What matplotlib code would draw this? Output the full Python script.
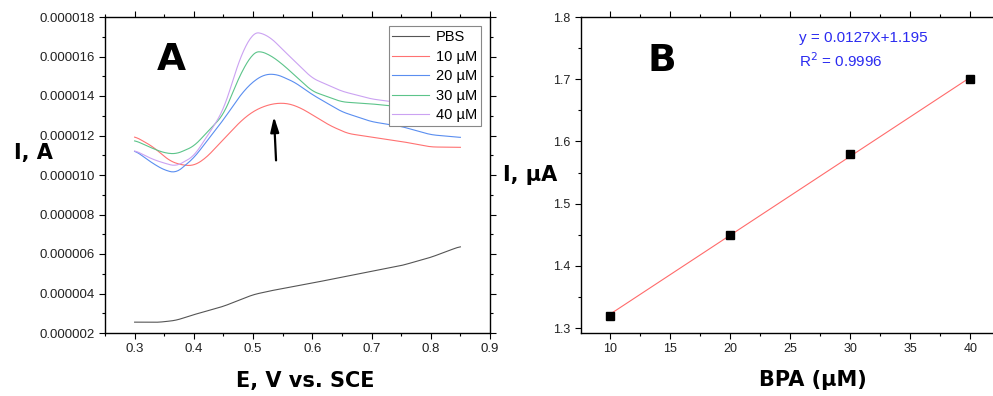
import numpy as np
import matplotlib
matplotlib.use("Agg")
import matplotlib.pyplot as plt
from matplotlib.ticker import MultipleLocator, FuncFormatter

plt.rcParams['font.family'] = ['Liberation Sans', 'DejaVu Sans']

# panel A: DPV curves (E in V, I in units of 1e-6 A)
E_pbs = [0.30, 0.34, 0.37, 0.40, 0.45, 0.50, 0.53, 0.60, 0.70, 0.75, 0.80, 0.85]
I_pbs = [2.55, 2.54, 2.64, 2.93, 3.35, 3.94, 4.14, 4.53, 5.12, 5.41, 5.83, 6.39]

E_10 = [0.30, 0.33, 0.36, 0.38, 0.40, 0.42, 0.45, 0.48, 0.50, 0.52, 0.54, 0.56, 0.58, 0.60, 0.63, 0.66, 0.70, 0.75, 0.80, 0.85]
I_10 = [11.96, 11.45, 10.70, 10.50, 10.47, 10.85, 11.80, 12.75, 13.22, 13.50, 13.64, 13.62, 13.40, 13.05, 12.50, 12.10, 11.92, 11.70, 11.42, 11.40]

E_20 = [0.30, 0.33, 0.35, 0.37, 0.40, 0.45, 0.48, 0.50, 0.52, 0.54, 0.57, 0.60, 0.65, 0.70, 0.75, 0.80, 0.85]
I_20 = [11.25, 10.60, 10.25, 10.10, 10.86, 12.80, 14.10, 14.74, 15.10, 15.10, 14.70, 14.07, 13.20, 12.70, 12.46, 12.04, 11.90]

E_30 = [0.30, 0.33, 0.35, 0.37, 0.40, 0.43, 0.45, 0.48, 0.50, 0.51, 0.53, 0.55, 0.60, 0.65, 0.70, 0.75, 0.80, 0.85]
I_30 = [11.76, 11.35, 11.12, 11.06, 11.45, 12.40, 13.05, 15.20, 16.18, 16.30, 16.05, 15.60, 14.24, 13.70, 13.60, 13.45, 13.30, 13.20]

E_40 = [0.30, 0.33, 0.35, 0.37, 0.40, 0.43, 0.45, 0.48, 0.50, 0.51, 0.53, 0.55, 0.60, 0.65, 0.70, 0.75, 0.80, 0.85]
I_40 = [11.25, 10.80, 10.60, 10.44, 10.95, 12.30, 13.30, 16.10, 17.20, 17.24, 16.95, 16.35, 14.90, 14.24, 13.85, 13.65, 13.45, 13.30]

labels_a = ['PBS', '10 µM', '20 µM', '30 µM', '40 µM']
colors_a = ['#555555', '#ff7272', '#5a8ef0', '#5cc48a', '#cba2f2']

# panel B: calibration
bpa = [10, 20, 30, 40]
peak_i = [1.32, 1.45, 1.58, 1.70]
slope, intercept = 0.0127, 1.195


def smooth(x, y, n=300):
    xs = np.linspace(x[0], x[-1], n)
    ys = np.interp(xs, x, y)
    k = np.ones(11) / 11
    ys_pad = np.concatenate([np.full(5, ys[0]), ys, np.full(5, ys[-1])])
    ys = np.convolve(ys_pad, k, mode='valid')
    return xs, ys


def style_ticks(ax, size):
    ax.tick_params(which='both', direction='out', top=True, right=True,
                   labeltop=False, labelright=False, labelsize=size, width=0.8,
                   labelcolor='#222222')
    ax.tick_params(which='major', length=4)
    ax.tick_params(which='minor', length=2.5)
    for s in ax.spines.values():
        s.set_linewidth(1.0)


fig = plt.figure(figsize=(9.93, 3.96), dpi=100)

axA = fig.add_axes([105 / 993, 1 - 333 / 396, (490 - 105) / 993, (333 - 17) / 396])
series = [(E_pbs, I_pbs), (E_10, I_10), (E_20, I_20), (E_30, I_30), (E_40, I_40)]
for (x, y), lab, c in zip(series, labels_a, colors_a):
    xs, ys = smooth(x, y)
    axA.plot(xs, ys * 1e-6, color=c, lw=0.8, label=lab)
axA.set_xlim(0.25, 0.9)
axA.set_ylim(2e-6, 1.8e-5)
axA.xaxis.set_major_locator(MultipleLocator(0.1))
axA.xaxis.set_minor_locator(MultipleLocator(0.05))
axA.yaxis.set_major_locator(MultipleLocator(2e-6))
axA.yaxis.set_minor_locator(MultipleLocator(1e-6))
axA.xaxis.set_major_formatter(FuncFormatter(lambda v, p: '%.1f' % v if v > 0.29 else ''))
axA.yaxis.set_major_formatter(FuncFormatter(lambda v, p: '%.6f' % v))
style_ticks(axA, 9.5)
axA.annotate('', xy=(0.535, 13.1e-6), xytext=(0.539, 10.6e-6),
             arrowprops=dict(arrowstyle='-|>,head_length=0.9,head_width=0.25', color='black', lw=1.6))
leg = axA.legend(loc='upper right', bbox_to_anchor=(0.977, 0.97), fontsize=10.5, frameon=True,
                 fancybox=False, framealpha=1, edgecolor='#888888', handlelength=2.5,
                 borderpad=0.25, labelspacing=0.38, handletextpad=0.5, borderaxespad=0)
leg.get_frame().set_linewidth(0.8)
axA.text(0.135, 0.865, 'A', transform=axA.transAxes, fontsize=27, fontweight='bold',
         family='DejaVu Sans', va='center', ha='left')
fig.text(33 / 993, 1 - 153 / 396, 'I, A', fontsize=15, fontweight='bold',
         family='DejaVu Sans', ha='center', va='center')
fig.text(305 / 993, 1 - 381 / 396, 'E, V vs. SCE', fontsize=15, fontweight='bold',
         family='DejaVu Sans', ha='center', va='center')

axB = fig.add_axes([581 / 993, 1 - 333 / 396, (1010 - 581) / 993, (333 - 17) / 396])
xf = np.array([bpa[0], bpa[-1]])
axB.plot(xf, slope * xf + intercept, color='#ff6b6b', lw=0.8)
axB.plot(bpa, peak_i, 's', color='black', ms=6)
axB.set_xlim(7.6, 43.3)
axB.set_ylim(1.292, 1.8)
axB.xaxis.set_major_locator(MultipleLocator(5))
axB.xaxis.set_minor_locator(MultipleLocator(2.5))
axB.yaxis.set_major_locator(MultipleLocator(0.1))
axB.yaxis.set_minor_locator(MultipleLocator(0.05))
axB.xaxis.set_major_formatter(FuncFormatter(lambda v, p: '%d' % v if 10 <= v <= 40 else ''))
axB.yaxis.set_major_formatter(FuncFormatter(lambda v, p: '%.1f' % v))
style_ticks(axB, 9)
axB.text(0.155, 0.86, 'B', transform=axB.transAxes, fontsize=27, fontweight='bold',
         family='DejaVu Sans', va='center', ha='left')
axB.text(0.508, 0.935, 'y = 0.0127X+1.195', transform=axB.transAxes, fontsize=11,
         color='#2b2bf0', va='center', ha='left')
axB.text(0.508, 0.862, 'R$^2$ = 0.9996', transform=axB.transAxes, fontsize=11,
         color='#2b2bf0', va='center', ha='left')
fig.text(530 / 993, 1 - 175 / 396, 'I, μA', fontsize=15, fontweight='bold',
         family='DejaVu Sans', ha='center', va='center')
fig.text(813 / 993, 1 - 380 / 396, 'BPA (μM)', fontsize=15, fontweight='bold',
         family='DejaVu Sans', ha='center', va='center')

fig.savefig('out.png', dpi=100)
